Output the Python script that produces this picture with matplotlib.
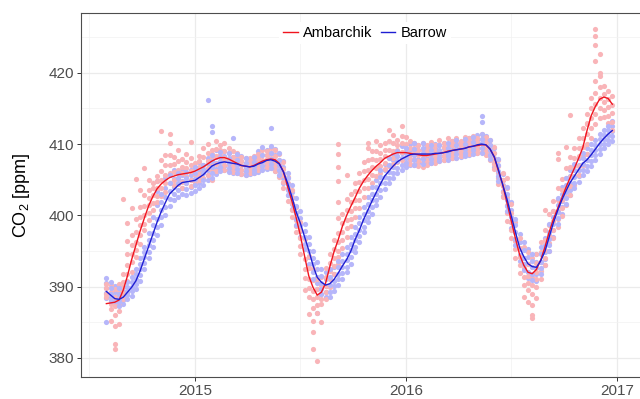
import numpy as np
import pandas as pd
import matplotlib
matplotlib.use("Agg")
import matplotlib.pyplot as plt
import matplotlib.dates as mdates

plt.rcParams['font.family'] = ['Liberation Sans', 'DejaVu Sans']
plt.rcParams['mathtext.fontset'] = 'custom'
plt.rcParams['mathtext.rm'] = 'Liberation Sans'
plt.rcParams['mathtext.it'] = 'Liberation Sans:italic'

# observation dates (about weekly), shared by both stations
first_day = "2014-07-31"
last_day = "2016-12-24"

# Ambarchik CO2 readings [ppm], one list per observation date
amb_ppm = [
    [390.4, 389.8, 389.0, 388.6], [390.2, 389.3, 388.1, 387.6, 386.9, 385.2],
    [389.6, 388.6, 387.3, 386.0, 384.4, 381.3, 382.0], [390.4, 389.5, 388.9, 387.4, 386.5, 384.8],
    [391.8, 390.7, 389.9, 389.1, 388.2, 402.3], [396.4, 394.5, 393.0, 391.8, 390.8, 389.2, 398.9],
    [397.2, 395.9, 394.5, 393.4, 392.1, 401.0], [399.5, 397.6, 396.3, 395.1, 394.2, 405.1],
    [401.2, 399.8, 398.6, 397.2, 396.0, 403.5], [402.8, 401.3, 400.0, 398.8, 397.9, 406.7],
    [403.6, 402.4, 401.5, 400.3, 399.4, 404.9], [404.6, 403.8, 402.9, 401.7, 400.8],
    [405.5, 404.8, 403.9, 402.7, 401.8], [407.8, 406.2, 405.0, 403.8, 402.7, 411.9],
    [408.5, 407.0, 405.6, 404.5, 403.3], [410.2, 408.4, 407.0, 405.9, 404.6, 411.4],
    [408.2, 407.2, 406.1, 405.0, 404.2], [409.1, 407.6, 406.4, 405.3, 404.4],
    [407.9, 406.8, 405.9, 404.7, 403.8], [408.6, 407.5, 406.7, 405.5, 404.5],
    [408.0, 407.0, 406.2, 405.0, 404.1, 410.3], [407.4, 406.6, 405.7, 405.1, 404.6],
    [408.3, 407.6, 406.8, 405.8, 405.0], [409.4, 408.2, 407.1, 406.2, 405.3],
    [410.0, 408.7, 407.6, 406.6, 405.7], [409.2, 408.6, 408.0, 407.1, 405.0, 406.4],
    [410.4, 409.3, 408.3, 407.2, 406.2], [409.8, 409.1, 408.5, 407.6, 406.8],
    [410.2, 409.0, 408.0, 407.1, 406.4], [409.5, 408.7, 407.8, 407.0, 406.3],
    [409.0, 408.2, 407.5, 406.8, 406.1], [408.7, 408.0, 407.2, 406.5, 405.9],
    [408.2, 407.6, 407.0, 406.4, 405.8], [408.0, 407.4, 406.7, 406.1, 405.6],
    [408.1, 407.5, 406.9, 406.3, 405.9], [408.3, 407.7, 407.1, 406.5, 406.0],
    [408.6, 408.0, 407.4, 406.8, 406.3], [409.2, 408.4, 407.7, 407.1, 406.5],
    [409.0, 408.5, 407.9, 407.3, 406.8], [409.4, 408.8, 408.1, 407.4, 406.7],
    [409.1, 408.3, 407.6, 406.9, 406.2], [408.6, 407.8, 407.0, 406.2, 405.4],
    [407.5, 406.5, 405.6, 404.7, 403.9], [405.4, 404.6, 403.8, 402.9, 402.0],
    [403.6, 402.6, 401.7, 400.7, 399.8], [401.2, 400.3, 399.4, 398.5, 397.6],
    [399.0, 397.9, 396.8, 395.7, 394.6], [396.7, 395.3, 393.9, 392.5, 391.2, 389.5],
    [394.3, 392.6, 391.0, 389.8, 388.6, 386.1],
    [392.5, 390.9, 389.4, 388.2, 387.0, 385.2, 383.6, 381.2],
    [391.0, 389.7, 388.5, 387.4, 386.3, 379.6], [391.4, 390.2, 389.0, 388.3, 387.6, 385.0],
    [392.6, 391.4, 390.1, 389.2, 388.3], [394.5, 393.3, 392.2, 391.1, 390.0],
    [396.6, 395.3, 394.0, 392.9, 391.8],
    [397.5, 396.3, 395.0, 394.1, 393.2, 399.6, 401.9, 404.8, 406.8, 408.6, 410.0],
    [400.2, 398.9, 397.6, 396.5, 395.4], [402.3, 400.8, 399.4, 398.2, 397.0, 405.6],
    [403.0, 401.8, 400.6, 399.5, 398.5], [404.6, 403.4, 402.2, 401.0, 399.8],
    [406.0, 404.7, 403.4, 402.2, 401.0], [407.5, 406.2, 405.0, 403.8, 402.6],
    [409.4, 407.8, 406.3, 405.1, 403.9, 410.2], [409.0, 407.9, 406.8, 405.7, 404.6],
    [410.4, 409.0, 407.7, 406.6, 405.5], [409.8, 408.8, 407.9, 406.9, 405.9],
    [410.2, 409.2, 408.3, 407.4, 406.5], [412.0, 410.4, 409.1, 408.0, 406.9],
    [411.3, 410.1, 409.0, 408.1, 407.2], [410.6, 409.9, 409.2, 408.3, 407.5],
    [412.6, 411.2, 410.1, 408.9, 407.8], [411.0, 410.0, 409.0, 408.2, 407.4],
    [410.4, 409.5, 408.6, 407.9, 407.2], [410.2, 409.5, 408.9, 407.9, 407.0],
    [409.9, 409.1, 408.4, 407.6, 406.9], [410.1, 409.2, 408.2, 407.5, 406.8],
    [409.8, 409.2, 408.6, 407.8, 407.1], [410.3, 409.5, 408.7, 408.0, 407.3],
    [409.9, 409.2, 408.5, 407.9, 407.4], [410.6, 409.8, 409.0, 408.3, 407.6],
    [410.2, 409.6, 408.9, 408.3, 407.8], [410.8, 410.0, 409.3, 408.6, 407.9],
    [410.5, 409.8, 409.0, 408.5, 408.0], [410.9, 410.1, 409.4, 408.7, 408.1],
    [410.4, 409.8, 409.2, 408.7, 408.3], [411.0, 410.3, 409.6, 409.0, 408.4],
    [410.8, 410.1, 409.5, 409.0, 408.6], [411.2, 410.5, 409.9, 409.3, 408.8],
    [410.9, 410.3, 409.7, 409.2, 408.7], [411.4, 410.7, 410.1, 409.5, 408.9],
    [411.0, 410.3, 409.6, 409.0, 408.5], [410.6, 409.8, 409.0, 408.3, 407.7],
    [409.6, 408.8, 407.9, 407.2, 406.5], [407.8, 406.9, 406.0, 405.2, 404.4],
    [406.0, 405.0, 404.1, 403.3, 402.5], [403.8, 402.6, 401.5, 400.3, 399.2, 405.2],
    [401.6, 400.3, 399.0, 397.9, 396.8], [399.0, 397.7, 396.4, 395.2, 394.0],
    [396.8, 395.4, 394.1, 393.0, 391.9], [395.5, 394.0, 392.6, 391.4, 390.2, 388.6],
    [394.8, 393.1, 391.5, 390.5, 389.5, 387.8],
    [394.0, 392.7, 391.4, 390.2, 389.0, 387.4, 386.0, 385.6],
    [394.6, 393.3, 392.0, 391.0, 390.0, 388.4], [396.2, 394.8, 393.4, 392.2, 391.1],
    [398.0, 396.5, 395.1, 394.0, 393.0, 400.8], [400.2, 398.7, 397.3, 396.1, 395.0],
    [402.0, 400.6, 399.2, 398.0, 396.8], [403.8, 402.2, 400.6, 399.5, 398.4, 408.8, 407.9],
    [405.1, 403.6, 402.2, 401.0, 399.9], [406.6, 405.2, 403.8, 402.6, 401.4, 409.6],
    [408.2, 406.8, 405.4, 404.1, 402.9, 414.1], [409.4, 408.1, 406.9, 405.5, 404.2],
    [410.8, 409.5, 408.3, 406.9, 405.6], [412.3, 410.9, 409.6, 408.3, 407.0],
    [414.2, 412.8, 411.4, 410.0, 408.6, 413.0], [416.5, 415.1, 413.7, 412.3, 410.9],
    [418.8, 417.2, 415.6, 414.2, 412.8, 421.7, 423.9, 425.2, 426.1],
    [419.5, 418.0, 416.4, 415.0, 413.6, 420.0, 422.6], [418.2, 417.0, 415.9, 414.8, 413.8],
    [417.5, 416.3, 415.2, 414.0, 412.9], [416.8, 415.5, 414.3, 413.1, 412.0],
]

# Barrow CO2 readings [ppm], one list per observation date
bar_ppm = [
    [391.2, 390.5, 389.8, 389.1, 388.4, 385.0], [390.6, 389.8, 389.0, 388.5, 387.9],
    [390.1, 389.3, 388.6, 388.0, 387.5], [389.8, 389.0, 388.3, 387.8, 387.2],
    [390.0, 389.4, 388.7, 388.1, 387.6], [390.6, 390.0, 389.3, 388.8, 388.2],
    [391.4, 390.7, 390.0, 389.4, 388.7], [392.4, 391.7, 391.0, 390.3, 389.6],
    [394.0, 393.2, 392.4, 391.6, 390.8], [395.6, 394.8, 394.1, 393.3, 392.5],
    [397.5, 396.6, 395.8, 394.9, 394.0], [399.8, 398.6, 397.5, 396.5, 395.6],
    [403.4, 401.4, 399.5, 398.3, 397.2, 404.8], [403.0, 401.9, 400.8, 399.7, 398.6],
    [405.2, 403.8, 402.5, 401.2, 400.0], [405.6, 404.5, 403.4, 402.3, 401.3],
    [406.3, 405.1, 404.0, 403.0, 402.1], [406.0, 405.2, 404.5, 403.5, 402.6],
    [406.4, 405.6, 404.8, 403.9, 403.0], [406.1, 405.3, 404.6, 403.7, 402.9],
    [406.4, 405.7, 404.9, 404.0, 403.2], [406.8, 405.9, 405.1, 404.2, 403.4],
    [407.5, 406.4, 405.4, 404.6, 403.8], [407.0, 406.5, 405.9, 405.0, 404.2],
    [416.2, 408.0, 407.2, 406.4, 405.6, 404.9], [412.6, 411.7, 408.4, 407.6, 406.8, 406.0, 405.3],
    [409.2, 408.2, 407.3, 406.5, 405.8], [408.9, 408.2, 407.5, 406.8, 406.2],
    [409.0, 408.3, 407.6, 406.9, 406.3], [408.8, 408.0, 407.3, 406.7, 406.1],
    [410.8, 408.2, 407.4, 406.7, 406.0], [408.6, 407.8, 407.1, 406.5, 405.9],
    [408.3, 407.6, 407.0, 406.4, 405.8], [408.1, 407.4, 406.8, 406.2, 405.7],
    [407.9, 407.3, 406.7, 406.2, 405.8], [408.2, 407.5, 406.9, 406.4, 405.9],
    [409.0, 408.1, 407.3, 406.7, 406.1], [409.6, 408.5, 407.5, 406.9, 406.3],
    [409.2, 408.4, 407.6, 407.0, 406.5], [412.2, 409.7, 408.8, 407.9, 407.2, 406.6],
    [409.3, 408.4, 407.5, 406.8, 406.2], [408.7, 407.8, 407.0, 406.3, 405.7],
    [407.6, 406.8, 406.0, 405.3, 404.6], [406.0, 405.2, 404.4, 403.6, 402.9],
    [404.2, 403.3, 402.4, 401.6, 400.9], [402.4, 401.3, 400.3, 399.5, 398.7],
    [400.6, 399.6, 398.7, 397.8, 397.0], [398.8, 397.8, 396.9, 396.0, 395.2],
    [397.0, 396.0, 395.0, 394.1, 393.2], [395.0, 394.0, 393.1, 392.0, 391.0],
    [393.4, 392.4, 391.4, 390.5, 389.6, 386.3], [392.5, 391.5, 390.5, 389.7, 389.0],
    [392.0, 391.0, 390.1, 389.3, 388.6], [392.4, 391.3, 390.2, 389.3, 388.5],
    [392.8, 391.8, 390.8, 390.1, 389.4], [393.6, 392.7, 391.8, 391.0, 390.2],
    [394.6, 393.6, 392.7, 391.9, 391.1], [395.5, 394.6, 393.7, 392.8, 392.0],
    [397.0, 396.0, 395.1, 394.1, 393.2], [398.4, 397.4, 396.5, 395.6, 394.8],
    [399.8, 398.9, 398.0, 397.1, 396.2], [401.2, 400.2, 399.3, 398.4, 397.6],
    [402.6, 401.6, 400.6, 399.8, 399.0], [404.0, 403.0, 402.1, 401.1, 400.2],
    [405.0, 404.0, 403.0, 402.2, 401.4], [406.3, 405.4, 404.5, 403.5, 402.6],
    [407.2, 406.3, 405.4, 404.5, 403.7], [408.0, 407.0, 406.1, 405.3, 404.6],
    [408.6, 407.7, 406.8, 406.0, 405.2], [409.0, 408.3, 407.6, 406.7, 405.9],
    [409.7, 408.8, 408.0, 407.1, 406.3], [409.5, 408.8, 408.1, 407.4, 406.8],
    [410.0, 409.2, 408.5, 407.7, 407.0], [410.2, 409.3, 408.4, 407.7, 407.1],
    [409.8, 409.2, 408.6, 407.9, 407.3], [410.1, 409.4, 408.7, 407.9, 407.2],
    [409.6, 409.0, 408.5, 407.9, 407.4], [409.9, 409.2, 408.6, 407.9, 407.3],
    [410.0, 409.4, 408.8, 408.1, 407.5], [409.8, 409.2, 408.6, 408.1, 407.6],
    [410.2, 409.5, 408.9, 408.3, 407.7], [410.1, 409.4, 408.8, 408.3, 407.8],
    [410.4, 409.8, 409.2, 408.6, 408.0], [410.6, 409.9, 409.1, 408.6, 408.1],
    [410.3, 409.8, 409.4, 408.8, 408.2], [410.7, 410.0, 409.3, 408.8, 408.3],
    [410.9, 410.3, 409.7, 409.1, 408.5], [411.0, 410.3, 409.6, 409.1, 408.6],
    [411.3, 410.6, 410.0, 409.4, 408.8], [414.0, 413.1, 411.4, 410.7, 410.1, 409.4, 408.8],
    [411.2, 410.5, 409.8, 409.2, 408.6], [410.6, 409.9, 409.2, 408.5, 407.9],
    [409.5, 408.8, 408.0, 407.4, 406.8], [407.9, 407.0, 406.2, 405.5, 404.8],
    [405.8, 405.0, 404.2, 403.4, 402.7], [404.0, 403.0, 402.1, 401.3, 400.6],
    [401.8, 400.8, 399.8, 399.0, 398.2], [399.5, 398.6, 397.6, 396.7, 395.9],
    [397.4, 396.3, 395.3, 394.4, 393.6], [396.2, 395.1, 394.0, 393.1, 392.3],
    [395.3, 394.2, 393.1, 392.1, 391.2], [394.6, 393.6, 392.7, 391.8, 390.9],
    [394.5, 393.5, 392.6, 391.7, 390.8], [395.6, 394.5, 393.4, 392.6, 391.8],
    [396.8, 395.8, 394.8, 393.9, 393.0], [398.8, 397.7, 396.7, 395.8, 395.0],
    [400.6, 399.7, 398.8, 397.9, 397.0], [402.4, 401.5, 400.5, 399.6, 398.8],
    [404.0, 403.0, 402.0, 401.1, 400.2], [405.2, 404.2, 403.3, 402.4, 401.6],
    [406.4, 405.5, 404.5, 403.6, 402.8], [407.2, 406.3, 405.4, 404.6, 403.8],
    [408.0, 407.1, 406.3, 405.5, 404.7], [408.8, 408.0, 407.2, 406.4, 405.6],
    [409.4, 408.6, 407.7, 406.9, 406.2], [410.0, 409.2, 408.4, 407.6, 406.9],
    [410.6, 409.9, 409.2, 408.5, 407.8], [411.4, 410.7, 410.0, 409.3, 408.6],
    [412.0, 411.3, 410.7, 410.0, 409.4], [412.6, 412.0, 411.3, 410.6, 410.0],
    [413.2, 412.5, 411.8, 411.2, 410.5],
]

# smoothed fits at the same dates [ppm]
amb_fit = [
    387.6, 387.7, 387.8, 388.1, 389.5, 391.5, 393.8, 395.8, 397.8, 399.6,
    401.3, 402.6, 403.7, 404.4, 404.9, 405.3, 405.5, 405.7, 405.8, 405.9,
    406.0, 406.2, 406.5, 406.8, 407.2, 407.6, 407.9, 408.1, 408.1, 407.9,
    407.6, 407.3, 407.0, 406.9, 406.8, 407.0, 407.3, 407.6, 407.8, 407.9,
    407.8, 407.3, 406.1, 404.0, 402.0, 399.7, 397.2, 394.3, 391.5, 389.9,
    388.8, 389.2, 390.5, 392.8, 394.9, 396.6, 398.5, 400.0, 401.3, 402.5,
    403.8, 404.8, 405.6, 406.3, 406.9, 407.4, 408.0, 408.3, 408.6, 408.8,
    408.8, 408.8, 408.7, 408.6, 408.5, 408.4, 408.4, 408.5, 408.6, 408.7,
    408.8, 409.0, 409.1, 409.2, 409.3, 409.4, 409.6, 409.7, 409.8, 409.9,
    409.9, 409.3, 408.2, 406.2, 404.3, 401.8, 399.3, 396.8, 394.5, 393.0,
    392.0, 391.8, 392.4, 393.7, 395.5, 397.6, 399.4, 400.9, 402.4, 403.9,
    405.3, 406.6, 408.0, 409.5, 411.9, 414.0, 415.3, 416.3, 416.6, 416.4,
    415.6,
]
bar_fit = [
    389.3, 388.8, 388.3, 388.2, 388.5, 389.2, 389.9, 390.8, 392.2, 393.9,
    395.6, 397.3, 399.0, 400.5, 401.8, 403.0, 403.6, 404.2, 404.6, 404.7,
    404.8, 404.9, 405.3, 405.7, 406.3, 406.9, 407.2, 407.4, 407.5, 407.4,
    407.3, 407.2, 407.0, 406.9, 406.8, 406.9, 407.2, 407.4, 407.7, 407.8,
    407.6, 407.2, 406.1, 404.5, 402.6, 400.5, 398.9, 397.0, 395.1, 393.0,
    391.3, 390.6, 390.2, 390.4, 391.0, 391.9, 392.9, 393.8, 395.0, 396.6,
    397.9, 399.4, 400.7, 402.0, 403.2, 404.4, 405.5, 406.2, 406.9, 407.5,
    407.9, 408.2, 408.5, 408.6, 408.6, 408.6, 408.6, 408.6, 408.7, 408.7,
    408.8, 408.9, 409.1, 409.2, 409.3, 409.4, 409.6, 409.7, 409.9, 410.0,
    409.9, 409.3, 408.2, 406.4, 404.3, 402.3, 400.0, 397.7, 395.5, 394.2,
    393.2, 392.8, 392.7, 393.6, 394.9, 396.9, 398.9, 400.6, 402.1, 403.4,
    404.6, 405.5, 406.4, 407.3, 407.8, 408.5, 409.3, 410.1, 410.8, 411.4,
    411.9,
]

dates = pd.date_range(first_day, last_day, periods=len(amb_fit))

def flatten(groups, parity):
    # split readings by even/odd date so the two stations interleave when drawn
    keep = [i for i in range(len(groups)) if i % 2 == parity]
    x = np.repeat(dates.values[keep], [len(groups[i]) for i in keep])
    y = np.concatenate([np.array(groups[i]) for i in keep])
    return x, y

fig = plt.figure(figsize=(6.4, 3.99), dpi=100)
ax = fig.add_axes([81 / 640, 22 / 399, 559 / 640, 364 / 399])

amb_col = '#F9B4B8'
bar_col = '#B6B6FA'
# even dates: Barrow under Ambarchik, odd dates: Ambarchik under Barrow
x, y = flatten(bar_ppm, 0)
ax.scatter(x, y, s=14, color=bar_col, linewidths=0, zorder=2)
x, y = flatten(amb_ppm, 0)
ax.scatter(x, y, s=14, color=amb_col, linewidths=0, zorder=2)
x, y = flatten(amb_ppm, 1)
ax.scatter(x, y, s=14, color=amb_col, linewidths=0, zorder=2)
x, y = flatten(bar_ppm, 1)
ax.scatter(x, y, s=14, color=bar_col, linewidths=0, zorder=2)

ax.plot(dates, amb_fit, color='#F0141E', lw=1.0, label='Ambarchik', zorder=3)
ax.plot(dates, bar_fit, color='#1E1ED2', lw=1.0, label='Barrow', zorder=3)

ax.set_xlim(pd.Timestamp("2014-06-17"), pd.Timestamp("2017-02-10"))
ax.set_ylim(377.3, 428.4)

ax.xaxis.set_major_locator(mdates.YearLocator())
ax.xaxis.set_major_formatter(mdates.DateFormatter('%Y'))
ax.xaxis.set_minor_locator(mdates.MonthLocator(bymonth=7))
ax.set_yticks([380, 390, 400, 410, 420])
ax.set_yticks([385, 395, 405, 415, 425], minor=True)

ax.grid(True, which='major', color='#EBEBEB', lw=0.9, zorder=0)
ax.grid(True, which='minor', color='#F2F2F2', lw=0.5, zorder=0)
ax.set_axisbelow(True)

ax.tick_params(which='major', length=3, width=0.7, color='#333333',
               labelsize=11, labelcolor='#4D4D4D', pad=2)
ax.tick_params(which='minor', length=0)
for side in ['left', 'top', 'bottom']:
    ax.spines[side].set_color('#4D4D4D')
    ax.spines[side].set_linewidth(0.8)
ax.spines['right'].set_visible(False)

ax.set_ylabel('CO$_2$ [ppm]', fontsize=13, labelpad=12)

leg = ax.legend(loc='center', bbox_to_anchor=(0.508, 0.945), ncol=2,
                fontsize=10.5, frameon=True, handlelength=1.0,
                handletextpad=0.35, columnspacing=0.6, borderpad=0.3)
leg.get_frame().set_facecolor('white')
leg.get_frame().set_edgecolor('none')
leg.get_frame().set_alpha(1)

fig.savefig('out.png', dpi=100)
